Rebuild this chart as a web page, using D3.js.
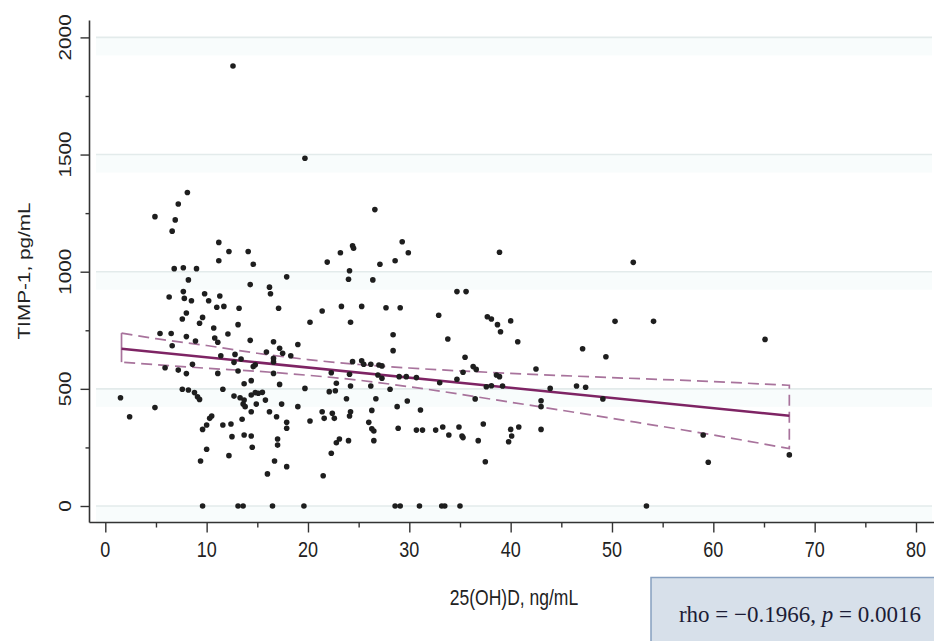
<!DOCTYPE html>
<html>
<head>
<meta charset="utf-8">
<script src="https://cdn.jsdelivr.net/npm/d3@7"></script>
<style>
  html, body { margin: 0; padding: 0; background: #fff; }
  svg { display: block; }
</style>
</head>
<body>
<div id="chart"></div>
<script>
// 25(OH)D (ng/mL) and TIMP-1 (pg/mL), one entry per subject
let vitD = [
  12.6, 19.7, 8.1, 7.2, 4.9, 6.9, 6.6, 11.2, 12.2, 14.1, 11.2, 14.6, 6.8, 7.7, 9.0, 17.9, 8.2, 14.3, 16.2, 16.3,
  21.9, 6.3, 7.7, 7.8, 8.5, 9.8, 10.2, 11.3, 11.0, 11.7, 13.2, 17.1, 21.4, 8.0, 7.6, 9.6, 9.3, 13.1, 20.2, 10.7,
  5.4, 6.5, 6.6, 8.0, 8.9, 10.8, 11.1, 12.1, 14.3, 16.6, 17.2, 17.5, 18.3, 19.0, 11.4, 12.8, 12.7, 13.4, 15.9, 16.6,
  16.6, 14.8, 14.6, 5.9, 7.2, 8.0, 8.6, 11.1, 13.1, 16.6, 13.7, 14.4, 17.2, 1.5, 2.4, 4.9, 7.6, 8.2, 8.8, 9.1,
  9.3, 11.6, 12.7, 13.3, 13.7, 13.6, 13.8, 14.4, 14.8, 15.1, 15.5, 15.8, 14.9, 14.4, 16.2, 17.4, 19.0, 16.9, 10.5, 10.3,
  10.0, 9.6, 11.6, 12.4, 13.5, 17.9, 17.9, 12.5, 13.7, 14.4, 17.0, 17.0, 14.5, 10.0, 12.2, 9.4, 16.7, 17.9, 16.0, 9.6,
  13.1, 13.6, 16.5, 26.6, 29.3, 24.4, 24.5, 23.2, 29.9, 27.1, 28.6, 24.1, 24.0, 26.4, 34.7, 35.6, 23.3, 25.3, 27.7, 29.1,
  32.9, 24.2, 28.4, 33.8, 28.4, 35.5, 24.4, 25.3, 25.5, 26.2, 27.0, 27.3, 22.3, 24.1, 26.9, 27.3, 29.0, 29.7, 30.7, 33.0,
  34.7, 35.3, 36.3, 36.6, 22.8, 22.7, 22.1, 19.7, 24.2, 26.2, 28.1, 36.5, 23.8, 26.7, 28.8, 29.8, 26.3, 31.1, 21.4, 21.6,
  22.4, 22.6, 24.2, 24.1, 20.2, 26.0, 26.3, 26.5, 28.9, 30.7, 31.3, 32.6, 33.3, 34.9, 33.9, 35.2, 35.3, 37.3, 36.8, 23.1,
  22.8, 24.0, 26.5, 22.3, 37.5, 21.5, 19.6, 28.6, 29.1, 31.0, 33.2, 33.5, 35.0, 38.9, 52.1, 37.7, 38.1, 38.7, 39.0, 40.0,
  40.7, 50.3, 54.1, 65.1, 47.1, 49.4, 42.5, 38.6, 38.9, 37.6, 38.1, 39.2, 43.9, 46.5, 47.4, 49.1, 43.0, 43.0, 40.0, 40.8,
  40.1, 39.8, 43.0, 59.0, 59.5, 67.5, 53.4
];
let timp1 = [
  1878, 1484, 1338, 1289, 1235, 1221, 1173, 1125, 1086, 1086, 1047, 1032, 1013, 1017, 1013, 978, 965, 945, 934, 906,
  1041, 892, 915, 886, 876, 906, 876, 896, 848, 852, 844, 844, 832, 824, 798, 805, 780, 774, 784, 760,
  736, 736, 684, 723, 704, 717, 699, 734, 707, 701, 673, 652, 641, 689, 641, 647, 613, 627, 657, 630,
  615, 603, 595, 590, 580, 565, 605, 566, 576, 566, 522, 535, 519, 462, 381, 420, 498, 495, 484, 466,
  455, 498, 469, 462, 452, 435, 424, 474, 484, 481, 485, 452, 435, 402, 402, 435, 424, 381, 384, 374,
  346, 327, 346, 350, 370, 357, 332, 296, 303, 299, 286, 260, 251, 242, 215, 192, 192, 168, 137, 0,
  0, 0, 0, 1265, 1128, 1111, 1100, 1081, 1081, 1032, 1047, 1004, 968, 965, 915, 915, 852, 852, 846, 846,
  814, 784, 731, 713, 663, 635, 616, 620, 605, 605, 602, 598, 569, 562, 559, 545, 552, 552, 548, 526,
  541, 571, 595, 583, 524, 492, 488, 502, 512, 512, 498, 457, 458, 458, 424, 448, 408, 410, 402, 374,
  396, 374, 402, 384, 363, 357, 330, 320, 332, 324, 324, 324, 337, 337, 303, 299, 292, 350, 279, 286,
  270, 279, 279, 225, 189, 129, 0, 0, 0, 0, 0, 0, 0, 1083, 1040, 808, 798, 774, 744, 790,
  701, 788, 788, 711, 671, 637, 585, 559, 552, 509, 513, 512, 502, 512, 507, 457, 449, 424, 327, 337,
  299, 274, 327, 303, 187, 218, 0
];

// linear fit and its 95% band
let fitX = [1.6, 67.5];
let fitY = [671, 385];
let ciX = [1.6, 5, 10, 15, 20, 25, 30, 40, 50, 60, 67.5];
let ciUpper = [738, 714, 685, 652, 625, 604, 589, 566, 548, 531, 515];
let ciLower = [614, 603, 588, 575, 558, 537, 509, 443, 374, 303, 245];

let xTicks = [0, 10, 20, 30, 40, 50, 60, 70, 80];
let xMinor = [5, 15, 25, 35, 45, 55, 65, 75];
let yTicks = [0, 500, 1000, 1500, 2000];
let yMinor = [250, 750, 1250, 1750];

let statText = "rho = \u22120.1966, ";

let width = 934, height = 641;
let stretch = 1.22;   // the source picture is a little taller than wide

let svg = d3.select("#chart")
  .append("svg")
    .attr("width", width)
    .attr("height", height);

svg.append("rect").attr("width", width).attr("height", height).attr("fill", "#fff");

// scales
let x = d3.scaleLinear().domain([0, 80]).range([105.3, 916]);
let y = d3.scaleLinear().domain([0, 2000]).range([506, 37.4]);

let axisX = 89.5, axisY = 522.5;

// grid lines with the faint band under each
let grid = svg.append("g");
grid.selectAll("rect")
  .data(yTicks)
  .enter().append("rect")
    .attr("x", 96).attr("width", 836)
    .attr("y", function(d) { return y(d); })
    .attr("height", 18)
    .attr("fill", "#f8fcfc");
grid.selectAll("line")
  .data(yTicks)
  .enter().append("line")
    .attr("x1", 96).attr("x2", 932)
    .attr("y1", function(d) { return y(d); })
    .attr("y2", function(d) { return y(d); })
    .attr("stroke", "#e3ebeb")
    .attr("stroke-width", 1.6);

// y axis
let yAxisG = svg.append("g").attr("transform", "translate(" + axisX + ",0)");
yAxisG.call(d3.axisLeft(y).tickValues(yTicks).tickSize(9).tickSizeOuter(0).tickFormat(""));
yAxisG.append("g").call(d3.axisLeft(y).tickValues(yMinor).tickSize(4).tickSizeOuter(0).tickFormat(""));
yAxisG.selectAll(".domain").remove();
yAxisG.selectAll("line").attr("stroke", "#333").attr("stroke-width", 1.4);
svg.append("line")
  .attr("x1", axisX).attr("x2", axisX)
  .attr("y1", 20.5).attr("y2", axisY)
  .attr("stroke", "#333").attr("stroke-width", 1.6);

svg.append("g").selectAll("text")
  .data(yTicks)
  .enter().append("text")
    .attr("transform", function(d) {
      return "translate(71," + y(d) + ") scale(1," + stretch + ") rotate(-90)";
    })
    .attr("text-anchor", "middle")
    .attr("font-family", "'Liberation Sans', Arial, sans-serif")
    .attr("font-size", 17)
    .attr("fill", "#222")
    .text(function(d) { return d; });

// x axis
let xAxisG = svg.append("g").attr("transform", "translate(0," + axisY + ")");
xAxisG.call(d3.axisBottom(x).tickValues(xTicks).tickSize(10).tickSizeOuter(0).tickFormat(""));
xAxisG.append("g").call(d3.axisBottom(x).tickValues(xMinor).tickSize(5).tickSizeOuter(0).tickFormat(""));
xAxisG.selectAll(".domain").remove();
xAxisG.selectAll("line").attr("stroke", "#333").attr("stroke-width", 1.4);
svg.append("line")
  .attr("x1", axisX).attr("x2", 934)
  .attr("y1", axisY).attr("y2", axisY)
  .attr("stroke", "#333").attr("stroke-width", 1.6);

svg.append("g").selectAll("text")
  .data(xTicks)
  .enter().append("text")
    .attr("transform", function(d) {
      return "translate(" + x(d) + ",557) scale(1," + stretch + ")";
    })
    .attr("text-anchor", "middle")
    .attr("font-family", "'Liberation Sans', Arial, sans-serif")
    .attr("font-size", 18)
    .attr("fill", "#222")
    .text(function(d) { return d; });

// axis titles
svg.append("text")
  .attr("transform", "translate(30,271) scale(1," + stretch + ") rotate(-90)")
  .attr("text-anchor", "middle")
  .attr("font-family", "'Liberation Sans', Arial, sans-serif")
  .attr("font-size", 17)
  .attr("fill", "#222")
  .text("TIMP-1, pg/mL");

svg.append("text")
  .attr("transform", "translate(514,605) scale(1," + stretch + ")")
  .attr("text-anchor", "middle")
  .attr("font-family", "'Liberation Sans', Arial, sans-serif")
  .attr("font-size", 17.5)
  .attr("fill", "#222")
  .text("25(OH)D, ng/mL");

// confidence band outline (dashed), left end closed with a plain line
let band = ciX.map(function(d, i) { return {x: d, hi: ciUpper[i], lo: ciLower[i]}; });
let lineHi = d3.line().x(function(d) { return x(d.x); }).y(function(d) { return y(d.hi); }).curve(d3.curveMonotoneX);
let lineLo = d3.line().x(function(d) { return x(d.x); }).y(function(d) { return y(d.lo); }).curve(d3.curveMonotoneX);
let last = band[band.length - 1], first = band[0];

svg.append("path")
  .attr("d", lineHi(band) + "L" + x(last.x) + "," + y(last.lo) + lineLo(band.slice().reverse()).replace(/^M/, "L"))
  .attr("fill", "none")
  .attr("stroke", "#a8739c")
  .attr("stroke-width", 1.7)
  .attr("stroke-dasharray", "11,6");
svg.append("line")
  .attr("x1", x(first.x)).attr("x2", x(first.x))
  .attr("y1", y(first.hi)).attr("y2", y(first.lo))
  .attr("stroke", "#a8739c")
  .attr("stroke-width", 1.7);

// fitted line
svg.append("line")
  .attr("x1", x(fitX[0])).attr("y1", y(fitY[0]))
  .attr("x2", x(fitX[1])).attr("y2", y(fitY[1]))
  .attr("stroke", "#7e2464")
  .attr("stroke-width", 2.6);

// points
svg.append("g").selectAll("circle")
  .data(vitD.map(function(d, i) { return {x: d, y: timp1[i]}; }))
  .enter().append("circle")
    .attr("cx", function(d) { return x(d.x); })
    .attr("cy", function(d) { return y(d.y); })
    .attr("r", 2.8)
    .attr("fill", "#1e1e1e");

// statistics box
let box = svg.append("g");
box.append("rect")
  .attr("x", 651).attr("y", 577.5)
  .attr("width", 290).attr("height", 70)
  .attr("fill", "#d7e0ea")
  .attr("stroke", "#87a0c0")
  .attr("stroke-width", 1.5);
let t = box.append("text")
  .attr("x", 800).attr("y", 622)
  .attr("text-anchor", "middle")
  .attr("font-family", "'Liberation Serif', 'Times New Roman', serif")
  .attr("font-size", 23)
  .attr("fill", "#1c1c36");
t.append("tspan").text(statText);
t.append("tspan").attr("font-style", "italic").text("p");
t.append("tspan").text(" = 0.0016");
</script>
</body>
</html>
